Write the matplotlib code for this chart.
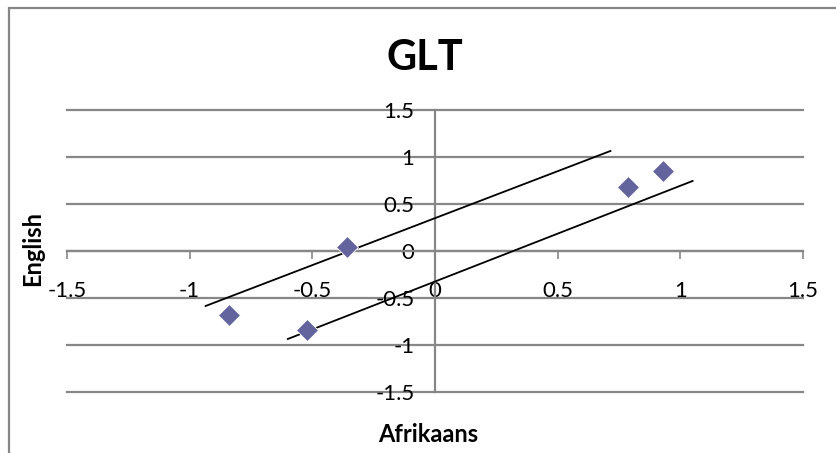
import matplotlib
matplotlib.use("Agg")
import matplotlib.pyplot as plt
from matplotlib.patches import Rectangle

plt.rcParams['font.family'] = ['Lato', 'DejaVu Sans']

# Data
afrikaans = [-0.84, -0.52, -0.36, 0.785, 0.93]
english = [-0.68, -0.84, 0.04, 0.68, 0.85]
upper_line_x = [-0.935, 0.715]
upper_line_y = [-0.585, 1.064]
lower_line_x = [-0.60, 1.05]
lower_line_y = [-0.936, 0.745]
ticks = [-1.5, -1, -0.5, 0, 0.5, 1, 1.5]
tick_labels = ['-1.5', '-1', '-0.5', '0', '0.5', '1', '1.5']

W, H = 836, 453
fig = plt.figure(figsize=(W / 100, H / 100), dpi=100)
ax = fig.add_axes([67 / W, (H - 392) / H, 736 / W, 282 / H])
ax.set_xlim(-1.5, 1.5)
ax.set_ylim(-1.5, 1.5)

grid_color = '#878787'
for t in ticks:
    ax.axhline(t, color=grid_color, lw=1.6, zorder=1, clip_on=False)

for s in ['top', 'right']:
    ax.spines[s].set_visible(False)
ax.spines['left'].set_position(('data', 0))
ax.spines['bottom'].set_position(('data', 0))
ax.spines['left'].set_color(grid_color)
ax.spines['bottom'].set_color(grid_color)
ax.spines['left'].set_linewidth(1.6)
ax.spines['bottom'].set_linewidth(1.6)

ax.set_xticks(ticks)
ax.set_xticklabels(tick_labels)
ax.set_yticks(ticks)
ax.set_yticklabels(tick_labels)
ax.tick_params(axis='both', direction='out', length=5.8, width=1.2, color=grid_color,
               labelsize=16, labelcolor='black')
ax.tick_params(axis='x', pad=16)
ax.tick_params(axis='y', pad=9)

ax.plot(upper_line_x, upper_line_y, color='black', lw=1.3, zorder=3)
ax.plot(lower_line_x, lower_line_y, color='black', lw=1.3, zorder=3)
ax.plot(afrikaans, english, linestyle='none', marker='D', markersize=11,
        color='#63639e', markeredgecolor='white', markeredgewidth=0.6, zorder=4)

fig.text(425 / W, 1 - 58 / H, 'GLT', ha='center', va='center', fontsize=30, fontweight='bold')
fig.text(33 / W, 1 - 248 / H, 'English', ha='center', va='center', rotation=90,
         fontsize=17, fontweight='bold')
fig.text(428 / W, 1 - 435 / H, 'Afrikaans', ha='center', va='center',
         fontsize=17, fontweight='bold')

fig.patches.append(Rectangle((9 / W, -0.1), 1.2, 1 - 8 / H + 0.1, transform=fig.transFigure,
                             fill=False, edgecolor='#868686', lw=1.6, figure=fig))

fig.savefig('out.png', dpi=100)
